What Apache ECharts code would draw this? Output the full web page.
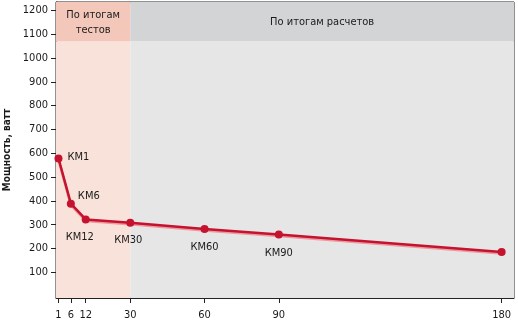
<!DOCTYPE html>
<html>
<head>
<meta charset="utf-8">
<script src="https://cdn.jsdelivr.net/npm/echarts@6/dist/echarts.min.js"></script>
<style>
  html, body { margin: 0; padding: 0; background: #fff; }
  #chart { width: 518px; height: 326px; }
</style>
</head>
<body>
<div id="chart"></div>
<script>
// Power required vs. duration (days): measured up to 30, calculated beyond
var days = [1, 6, 12, 30, 60, 90, 180];
var powerW = [578, 388, 322, 308, 282, 259, 185];
var pointNames = ['КМ1', 'КМ6', 'КМ12', 'КМ30', 'КМ60', 'КМ90', ''];
var xTicks = [1, 6, 12, 30, 60, 90, 180];
var yTicks = [100, 200, 300, 400, 500, 600, 700, 800, 900, 1000, 1100, 1200];
var zoneTested = 'По итогам\nтестов';
var zoneCalculated = 'По итогам расчетов';
var yAxisTitle = 'Мощность, ватт';

var FONT = '"DejaVu Sans Condensed", "Liberation Sans", sans-serif';
var X_MIN = 0, X_MAX = 185, Y_MIN = -8, Y_MAX = 1235, HEADER_FROM = 1070, SPLIT = 30;

// label placement for each point: [position, dx, dy]
var labelPlace = [
  ['right', 0, -1],
  ['right', -2, -8],
  ['bottom', -6, 3],
  ['bottom', -2, 3],
  ['bottom', 0, 4],
  ['bottom', 0, 4],
  ['bottom', 0, 0]
];

var lineData = days.map(function (d, i) {
  return {
    value: [d, powerW[i]],
    label: {
      show: pointNames[i] !== '',
      formatter: pointNames[i],
      position: labelPlace[i][0],
      offset: [labelPlace[i][1], labelPlace[i][2]]
    }
  };
});

var chart = echarts.init(document.getElementById('chart'), null, { renderer: 'canvas' });
chart.setOption({
  animation: false,
  grid: {
    left: 56, right: 4, top: 2, bottom: 28,
    containLabel: false, outerBoundsMode: 'none',
    show: true, borderColor: '#222', borderWidth: 1, backgroundColor: 'transparent'
  },
  xAxis: {
    type: 'value', min: X_MIN, max: X_MAX,
    splitLine: { show: false },
    axisLine: { show: true, onZero: false, lineStyle: { color: '#222', width: 1 } },
    axisTick: { show: true, length: 5, customValues: xTicks, lineStyle: { color: '#222' } },
    axisLabel: { customValues: xTicks, color: '#1a1a1a', fontFamily: FONT, fontSize: 11, margin: 12 }
  },
  yAxis: {
    type: 'value', min: Y_MIN, max: Y_MAX,
    name: yAxisTitle, nameLocation: 'middle', nameGap: 41,
    nameTextStyle: { color: '#1a1a1a', fontFamily: FONT, fontSize: 10, fontWeight: 'bold' },
    splitLine: { show: false },
    axisLine: { show: true, lineStyle: { color: '#222', width: 1 } },
    axisTick: { show: true, length: 5, customValues: yTicks, lineStyle: { color: '#222' } },
    axisLabel: {
      customValues: yTicks, color: '#1a1a1a', fontFamily: FONT, fontSize: 11, margin: 8,
      formatter: function (v) { return String(v); }
    }
  },
  series: [
    {
      type: 'line',
      data: lineData,
      symbol: 'circle', symbolSize: 8,
      lineStyle: { color: '#c4122f', width: 2.5, shadowColor: 'rgba(240,120,130,0.7)', shadowOffsetY: 1.5, shadowBlur: 0 },
      itemStyle: { color: '#c4122f' },
      label: { color: '#1a1a1a', fontFamily: FONT, fontSize: 11 },
      z: 5,
      markArea: {
        silent: true,
        data: [
          [{ coord: [X_MIN, Y_MIN], itemStyle: { color: '#f9e2da' } }, { coord: [SPLIT, HEADER_FROM] }],
          [{ coord: [SPLIT, Y_MIN], itemStyle: { color: '#e6e6e6' } }, { coord: [X_MAX, HEADER_FROM] }],
          [{
            coord: [X_MIN, HEADER_FROM], itemStyle: { color: '#f3c8ba' },
            label: { show: true, formatter: zoneTested, position: 'inside', offset: [0, 1], color: '#1a1a1a', fontFamily: FONT, fontSize: 11, lineHeight: 15 }
          }, { coord: [SPLIT, Y_MAX] }],
          [{
            coord: [SPLIT, HEADER_FROM], itemStyle: { color: '#d3d4d6' },
            label: { show: true, formatter: zoneCalculated, position: 'inside', color: '#1a1a1a', fontFamily: FONT, fontSize: 11 }
          }, { coord: [X_MAX, Y_MAX] }]
        ]
      }
    }
  ]
});
</script>
</body>
</html>
